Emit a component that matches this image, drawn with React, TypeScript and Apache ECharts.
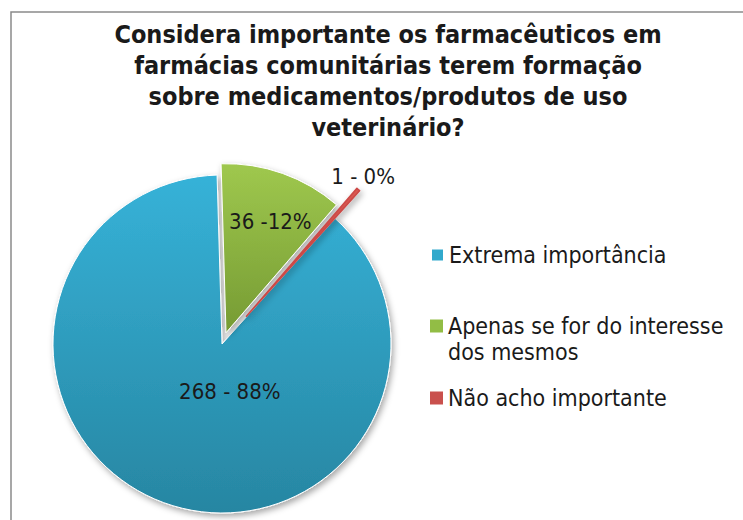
import React, { useEffect, useRef } from "react";
import * as echarts from "echarts";

// ---- data ----
const titleLines = [
  "Considera importante os farmacêuticos em",
  "farmácias comunitárias terem formação",
  "sobre medicamentos/produtos de uso",
  "veterinário?",
];
const categories = [
  "Extrema importância",
  "Apenas se for do interesse dos mesmos",
  "Não acho importante",
];
const values = [268, 36, 1];
const labelSeparators = [" - ", " -", " - "];

// ---- styling ----
const FONT = '"DejaVu Sans Condensed", "DejaVu Sans", sans-serif';
const solidColors = ["#31a9cc", "#92bd45", "#c9504d"];
const gradTop = ["#36b2d8", "#9fc84e", "#dc5a52"];
const gradBottom = ["#2786a2", "#769b33", "#b03e3a"];
const sliceBorderColors = ["#ffffff", "#ffffff", "#cc4a47"];
const sliceBorderWidths = [1, 1, 1.6];
const explodeOffsets = [0, 12, 37];
const labelPositions = ["inside", "inside", "outside"];
const labelShifts = [
  [38, -35],
  [15, -29],
  [-32, -13],
];
const legendTops = [242, 287, 385];

export default function App() {
  const ref = useRef<HTMLDivElement>(null);

  useEffect(() => {
    if (!ref.current) return;
    const chart = echarts.init(ref.current, undefined, { renderer: "svg" });

    const series = categories.map((_, i) => ({
      type: "pie",
      center: [222, 344],
      radius: 169,
      startAngle: 48,
      clockwise: true,
      percentPrecision: 0,
      selectedMode: "single",
      selectedOffset: explodeOffsets[i],
      avoidLabelOverlap: false,
      emphasis: { disabled: true },
      z: 2 + i,
      labelLine: { show: false, length: 0, length2: 0 },
      labelLayout: { dx: labelShifts[i][0], dy: labelShifts[i][1] },
      data: categories.map((name, j) => ({
        name,
        value: values[j],
        selected: j === i && explodeOffsets[i] > 0,
        itemStyle:
          j === i
            ? {
                color: {
                  type: "linear",
                  x: 0,
                  y: 0,
                  x2: 0,
                  y2: 1,
                  colorStops: [
                    { offset: 0, color: gradTop[i] },
                    { offset: 1, color: gradBottom[i] },
                  ],
                },
                borderColor: sliceBorderColors[i],
                borderWidth: sliceBorderWidths[i],
                shadowBlur: 6,
                shadowOffsetX: 2,
                shadowOffsetY: 3,
                shadowColor: "rgba(0,0,0,0.35)",
              }
            : {
                color: "transparent",
                borderWidth: 0,
                shadowBlur: 0,
                shadowColor: "transparent",
              },
        label:
          j === i
            ? {
                show: true,
                position: labelPositions[i],
                formatter: (p: any) =>
                  `${p.value}${labelSeparators[p.dataIndex]}${p.percent}%`,
                fontFamily: FONT,
                fontSize: 22,
                color: "#1a1a1a",
              }
            : { show: false },
      })),
    }));

    const legend = categories.map((name, i) => ({
      orient: "vertical",
      left: 430,
      top: legendTops[i],
      padding: 0,
      itemGap: 0,
      icon: "rect",
      itemWidth: 13,
      itemHeight: 13,
      selectedMode: false,
      data: [{ name, itemStyle: { color: solidColors[i] } }],
      // a wrapped entry gets an empty first line so its first text line sits beside the marker
      formatter: (n: string) => (i === 1 ? "\n" + n : n),
      textStyle: {
        fontFamily: FONT,
        fontSize: 23,
        color: "#1a1a1a",
        lineHeight: 26,
        width: 298,
        overflow: "break",
      },
    }));

    chart.setOption({
      animation: false,
      backgroundColor: "#ffffff",
      title: {
        text: titleLines.join("\n"),
        left: 388,
        top: 19,
        textAlign: "center",
        padding: 0,
        textStyle: {
          fontFamily: FONT,
          fontSize: 25,
          fontWeight: "bold",
          lineHeight: 31,
          color: "#1a1a1a",
        },
      },
      legend,
      graphic: [
        {
          type: "rect",
          z: 0,
          shape: { x: 11, y: 12, width: 800, height: 560 },
          style: { fill: "none", stroke: "#8a8a8a", lineWidth: 1.5 },
        },
      ],
      series,
    });

    return () => chart.dispose();
  }, []);

  return (
    <div
      ref={ref}
      style={{ position: "fixed", left: 0, top: 0, width: 743, height: 520 }}
    />
  );
}
